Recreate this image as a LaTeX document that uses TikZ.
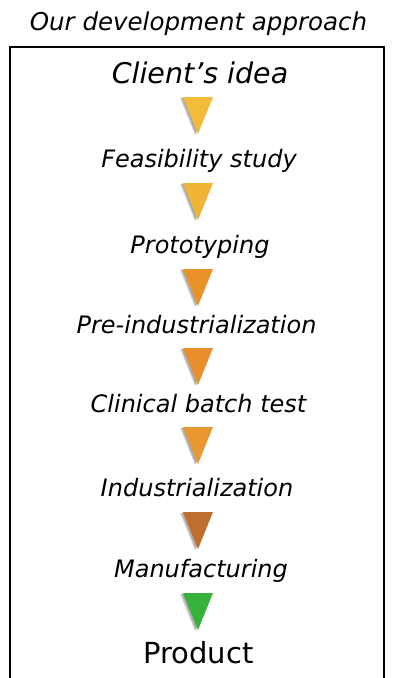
\documentclass[tikz,border=0pt]{standalone}
\usepackage{fontspec}
\setmainfont{DejaVu Sans}
\definecolor{c1}{HTML}{F2BC3A}
\definecolor{c2}{HTML}{F0B436}
\definecolor{c3}{HTML}{E8922A}
\definecolor{c4}{HTML}{E88E2A}
\definecolor{c5}{HTML}{E8982E}
\definecolor{c6}{HTML}{C06E2E}
\definecolor{c7}{HTML}{38B03C}
\newcommand{\steptri}[3]{%
  \coordinate (#1) at (197,#2);
  \fill[black,opacity=0.18] (180,#2+1) -- (209,#2+1) -- (195,#2+38) -- cycle;
  \fill[black,opacity=0.18] (181.5,#2+0.5) -- (210,#2+0.5) -- (196,#2+37.5) -- cycle;
  \fill[#3] (183,#2) -- (213,#2) -- (198,#2+37) -- cycle;
}
\begin{document}
\begin{tikzpicture}[x=1pt,y=-1pt,
  lbl/.style={anchor=base, inner sep=0pt, font=\itshape\fontsize{24}{28}\selectfont},
  biglbl/.style={anchor=base, inner sep=0pt, font=\itshape\fontsize{28.5}{32}\selectfont},
  prodlbl/.style={anchor=base, inner sep=0pt, font=\fontsize{29}{33}\selectfont},
  titlelbl/.style={anchor=base, inner sep=0pt, font=\itshape\fontsize{24.5}{28}\selectfont},
  frame/.style={line width=2pt}]
\useasboundingbox (0,0) rectangle (396,678);
\draw[frame] (10,679) -- (10,47) -- (384,47) -- (384,679);
\node[titlelbl] (title) at (198.5,30) {Our development approach};
\node[biglbl] (s0) at (200,83) {Client’s idea};
\steptri{a1}{97}{c1}
\node[lbl] (s1) at (199,167) {Feasibility study};
\steptri{a2}{183}{c2}
\node[lbl] (s2) at (200,253) {Prototyping};
\steptri{a3}{269}{c3}
\node[lbl] (s3) at (196.5,333) {Pre-industrialization};
\steptri{a4}{348}{c4}
\node[lbl] (s4) at (198.5,412) {Clinical batch test};
\steptri{a5}{427}{c5}
\node[lbl] (s5) at (197,496) {Industrialization};
\steptri{a6}{512}{c6}
\node[lbl] (s6) at (201,577) {Manufacturing};
\steptri{a7}{593}{c7}
\node[prodlbl] (s7) at (198.5,663) {Product};
\end{tikzpicture}
\end{document}
